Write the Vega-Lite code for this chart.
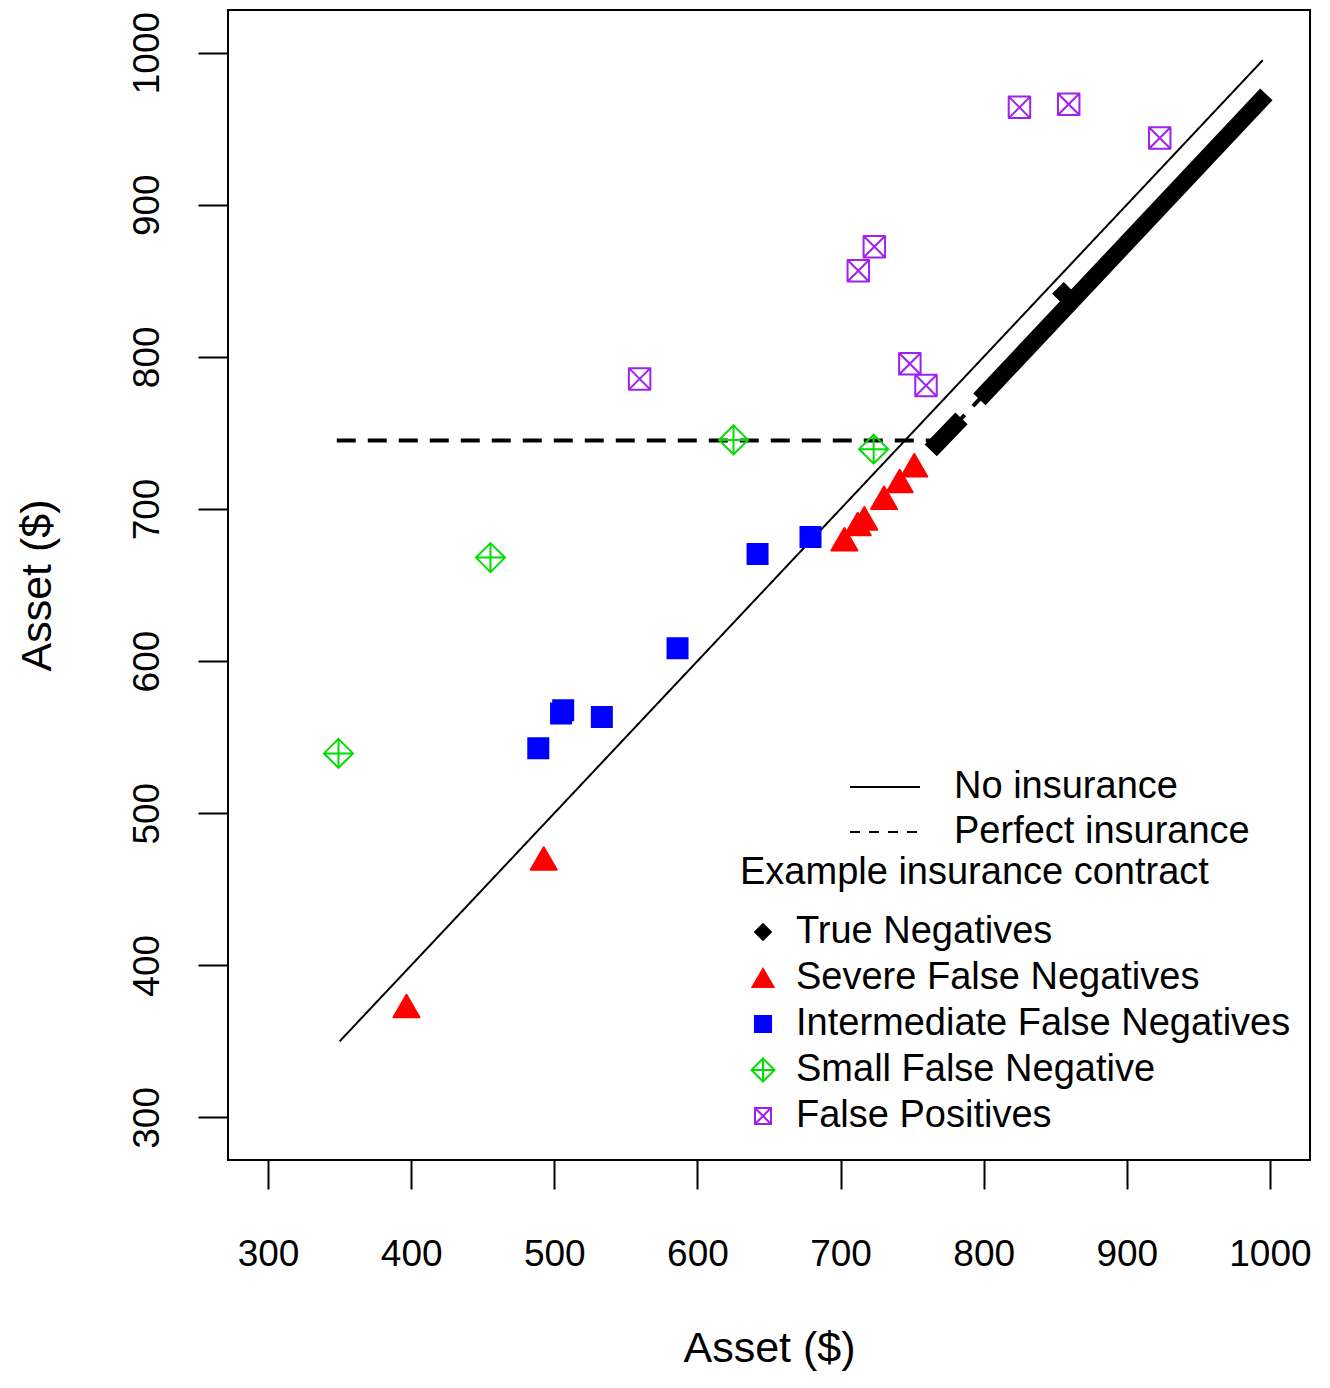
{
  "$schema": "https://vega.github.io/schema/vega-lite/v6.json",
  "width": 1082,
  "height": 1150,
  "autosize": {"type": "none"},
  "padding": {"left": 228, "top": 10, "right": 20, "bottom": 228},
  "background": "white",
  "config": {
    "font": "Liberation Sans",
    "view": {"stroke": "black", "strokeWidth": 2},
    "axis": {
      "domain": false, "grid": false, "tickColor": "black", "tickWidth": 2,
      "labelColor": "black", "titleColor": "black", "titleFontWeight": "normal",
      "labelFont": "Liberation Sans", "titleFont": "Liberation Sans"
    },
    "legend": {"labelFont": "Liberation Sans", "titleFont": "Liberation Sans", "labelColor": "black", "titleColor": "black"}
  },
  "datasets": {
    "lines": [
      {"series": "No insurance", "x": 350, "y": 350},
      {"series": "No insurance", "x": 995, "y": 995},
      {"series": "Perfect insurance", "x": 348, "y": 745},
      {"series": "Perfect insurance", "x": 770, "y": 745},
      {"series": "Perfect insurance", "x": 995, "y": 970}
    ],
    "band": [
      {"group": "True Negatives", "seg": "a", "x": 763, "y": 738.5},
      {"group": "True Negatives", "seg": "a", "x": 784.5, "y": 759.5},
      {"group": "True Negatives", "seg": "b", "x": 797, "y": 772},
      {"group": "True Negatives", "seg": "b", "x": 997.5, "y": 972.5}
    ],
    "points": [
      {"group": "True Negatives", "x": 856, "y": 841.5},
      {"group": "Severe False Negatives", "x": 396.7, "y": 373.2},
      {"group": "Severe False Negatives", "x": 492.6, "y": 470.2},
      {"group": "Severe False Negatives", "x": 702.7, "y": 680},
      {"group": "Severe False Negatives", "x": 712, "y": 690.1},
      {"group": "Severe False Negatives", "x": 716.6, "y": 693.8},
      {"group": "Severe False Negatives", "x": 730.4, "y": 707.4},
      {"group": "Severe False Negatives", "x": 741.3, "y": 718.4},
      {"group": "Severe False Negatives", "x": 751.5, "y": 728.7},
      {"group": "Intermediate False Negatives", "x": 488.8, "y": 542.6},
      {"group": "Intermediate False Negatives", "x": 504.7, "y": 565.5},
      {"group": "Intermediate False Negatives", "x": 506.2, "y": 567.7},
      {"group": "Intermediate False Negatives", "x": 533.2, "y": 563.3},
      {"group": "Intermediate False Negatives", "x": 586.1, "y": 608.5},
      {"group": "Intermediate False Negatives", "x": 642, "y": 670.4},
      {"group": "Intermediate False Negatives", "x": 679, "y": 681.6},
      {"group": "Small False Negative", "x": 349.2, "y": 539.3},
      {"group": "Small False Negative", "x": 455.4, "y": 668},
      {"group": "Small False Negative", "x": 625.2, "y": 745.4},
      {"group": "Small False Negative", "x": 723.1, "y": 739.3},
      {"group": "False Positives", "x": 559.6, "y": 785.5},
      {"group": "False Positives", "x": 712.4, "y": 856.6},
      {"group": "False Positives", "x": 723.6, "y": 872.4},
      {"group": "False Positives", "x": 748.4, "y": 795.4},
      {"group": "False Positives", "x": 759.7, "y": 781.2},
      {"group": "False Positives", "x": 825, "y": 964},
      {"group": "False Positives", "x": 859.4, "y": 966},
      {"group": "False Positives", "x": 923, "y": 943.9}
    ]
  },
  "encoding": {
    "x": {
      "field": "x", "type": "quantitative",
      "scale": {"domain": [272, 1028], "nice": false, "zero": false},
      "axis": {
        "values": [300, 400, 500, 600, 700, 800, 900, 1000], "format": "d",
        "tickSize": 29, "labelFontSize": 37, "labelPadding": 76, "labelBaseline": "alphabetic",
        "labelFlush": false, "labelOverlap": false,
        "title": "Asset ($)", "titleFontSize": 43, "titleX": 541, "titleY": 201,
        "titleBaseline": "alphabetic", "titleAlign": "center"
      }
    },
    "y": {
      "field": "y", "type": "quantitative",
      "scale": {"domain": [272, 1028], "nice": false, "zero": false},
      "axis": {
        "values": [300, 400, 500, 600, 700, 800, 900, 1000], "format": "d",
        "tickSize": 30, "labelFontSize": 37, "labelPadding": 40, "labelAngle": 270,
        "labelAlign": "center", "labelBaseline": "alphabetic",
        "labelFlush": false, "labelOverlap": false,
        "title": "Asset ($)", "titleFontSize": 43, "titleX": -178, "titleY": 575,
        "titleAngle": 270, "titleBaseline": "alphabetic", "titleAlign": "center"
      }
    }
  },
  "layer": [
    {
      "data": {"name": "lines"},
      "transform": [{"filter": "datum.series === 'No insurance'"}],
      "mark": {"type": "line", "color": "black", "strokeWidth": 2},
      "encoding": {
        "strokeDash": {
          "field": "series", "type": "nominal",
          "scale": {"domain": ["No insurance", "Perfect insurance"], "range": [[1, 0], [10, 9]]},
          "legend": {
            "title": null, "orient": "none", "legendX": 622, "legendY": 758,
            "symbolType": "M-3.5,0H3.5", "symbolSize": 400, "symbolStrokeWidth": 2,
            "symbolStrokeColor": "black", "symbolFillColor": "transparent", "symbolOffset": 16,
            "labelFontSize": 38, "labelOffset": 50, "rowPadding": 7, "padding": 0,
            "labelLimit": 0
          }
        }
      }
    },
    {
      "data": {"name": "lines"},
      "transform": [{"filter": "datum.series === 'Perfect insurance'"}],
      "mark": {"type": "line", "color": "black", "strokeWidth": 4, "strokeDash": [19, 12]}
    },
    {
      "data": {"name": "band"},
      "mark": {"type": "line", "color": "black", "strokeWidth": 17, "strokeCap": "butt"},
      "encoding": {"detail": {"field": "seg"}}
    },
    {
      "data": {"name": "points"},
      "encoding": {
        "shape": {
          "field": "group", "type": "nominal",
          "scale": {
            "domain": ["True Negatives", "Severe False Negatives", "Intermediate False Negatives", "Small False Negative", "False Positives"],
            "range": ["diamond", "triangle-up", "square", "M0,-1L1,0L0,1L-1,0Z M0,-1L0,1 M-1,0L1,0", "M-1,-1H1V1H-1Z M-1,-1L1,1 M-1,1L1,-1"]
          },
          "legend": {
            "title": "Example insurance contract", "orient": "none", "legendX": 512, "legendY": 844,
            "titleFontSize": 38, "titleFontWeight": "normal", "titleAnchor": "start", "titlePadding": 21,
            "titleLimit": 0, "labelLimit": 0,
            "symbolSize": 400, "symbolOffset": 4, "symbolStrokeWidth": 2,
            "labelFontSize": 38, "labelOffset": 14, "rowPadding": 8, "padding": 0,
            "encoding": {"symbols": {"size": {"value": {"expr": "datum.value === 'True Negatives' ? 250 : datum.value === 'Severe False Negatives' ? 441 : datum.value === 'Intermediate False Negatives' ? 260 : datum.value === 'Small False Negative' ? 529 : 256"}}}}
          }
        },
        "fill": {
          "field": "group", "type": "nominal",
          "scale": {
            "domain": ["True Negatives", "Severe False Negatives", "Intermediate False Negatives", "Small False Negative", "False Positives"],
            "range": ["black", "red", "blue", "transparent", "transparent"]
          },
          "legend": {
            "title": "Example insurance contract", "orient": "none", "legendX": 512, "legendY": 844
          }
        },
        "stroke": {
          "field": "group", "type": "nominal",
          "scale": {
            "domain": ["True Negatives", "Severe False Negatives", "Intermediate False Negatives", "Small False Negative", "False Positives"],
            "range": ["black", "red", "blue", "#00dd00", "#a020f0"]
          },
          "legend": {
            "title": "Example insurance contract", "orient": "none", "legendX": 512, "legendY": 844
          }
        }
      },
      "layer": [
        {"transform": [{"filter": "datum.group === 'True Negatives'"}], "mark": {"type": "point", "size": 500, "strokeWidth": 1, "opacity": 1}},
        {"transform": [{"filter": "datum.group === 'Severe False Negatives'"}], "mark": {"type": "point", "size": 676, "strokeWidth": 2, "strokeJoin": "round", "opacity": 1}},
        {"transform": [{"filter": "datum.group === 'Intermediate False Negatives'"}], "mark": {"type": "point", "size": 400, "strokeWidth": 2, "opacity": 1}},
        {"transform": [{"filter": "datum.group === 'Small False Negative'"}], "mark": {"type": "point", "size": 841, "strokeWidth": 2, "opacity": 1}},
        {"transform": [{"filter": "datum.group === 'False Positives'"}], "mark": {"type": "point", "size": 462, "strokeWidth": 2, "strokeJoin": "round", "opacity": 1}}
      ]
    }
  ]
}
